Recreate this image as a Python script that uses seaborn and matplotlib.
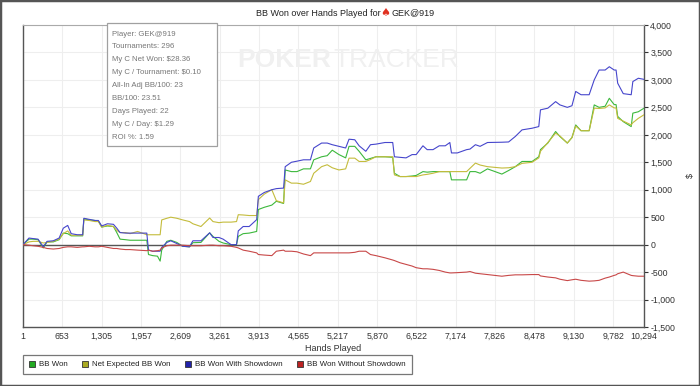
import matplotlib
matplotlib.use("Agg")
import matplotlib.pyplot as plt
import numpy as np
import pandas as pd
import seaborn as sns
from matplotlib.patches import Rectangle, Patch
from matplotlib.ticker import FuncFormatter

# ---------------- data ----------------
hands = [1, 100, 170, 250, 337, 400, 503, 600, 669, 742, 800, 900, 990, 1010, 1100, 1195, 1250, 1306, 1400, 1500,
         1555, 1610, 1700, 1776, 1900, 2053, 2081, 2150, 2230, 2274, 2300, 2385, 2450, 2551,
         2650, 2761, 2817, 2950, 3095, 3150, 3250, 3318, 3450, 3540, 3569, 3650, 3750, 3874, 3902, 4000,
         4125, 4200, 4320, 4347, 4450, 4542, 4650, 4765, 4820, 4950, 5043, 5127,
         5238, 5349, 5405, 5500, 5572, 5683, 5760, 5850, 6000, 6129, 6157, 6250, 6350, 6450, 6518, 6630,
         6700, 6797, 6900, 7000, 7076, 7103, 7200, 7354, 7410, 7500, 7577, 7700,
         7938, 8050, 8161, 8272, 8439, 8550, 8578, 8700, 8829, 8900, 9023, 9100, 9162, 9250, 9385, 9469,
         9550, 9650, 9719, 9800, 9831, 9858, 9950, 10082, 10109, 10200, 10294]

bb_won = [0, 100, 100, 90, -60, 50, 50, 90, 210, 200, 160, 160, 160, 470, 450, 440, 430, 320, 340, 330,
          220, 100, 90, 80, 80, 80, -180, -200, -210, -300, -100, 60, 80, 40,
          -30, -40, 35, 40, 215, 150, 60, 30, 0, 0, 150, 200, 210, 240, 640, 680,
          720, 790, 750, 1360, 1330, 1330, 1380, 1380, 1545, 1600, 1620, 1720,
          1640, 1580, 1790, 1790, 1700, 1545, 1570, 1600, 1600, 1590, 1300, 1240, 1240, 1250, 1260, 1330,
          1320, 1330, 1330, 1330, 1330, 1180, 1180, 1180, 1330, 1330, 1300, 1380,
          1285, 1350, 1420, 1515, 1515, 1600, 1730, 1850, 2060, 1970, 1850, 1950, 2180, 2075, 2075, 2545,
          2500, 2520, 2665, 2550, 2550, 2335, 2240, 2150, 2395, 2420, 2485]

net_expected = [0, 50, 60, 60, 30, 40, 60, 100, 200, 250, 170, 170, 170, 450, 440, 420, 420, 320, 350, 330,
                260, 220, 220, 200, 240, 180, 180, 180, 180, 180, 450, 480, 500, 480,
                450, 420, 380, 330, 485, 420, 400, 410, 410, 420, 545, 540, 530, 530, 820, 920,
                1000, 800, 760, 1180, 1120, 1120, 1100, 1150, 1300, 1420, 1455, 1400,
                1360, 1380, 1575, 1575, 1515, 1515, 1550, 1600, 1600, 1600, 1270, 1240, 1240, 1240, 1240, 1270,
                1280, 1300, 1330, 1330, 1330, 1330, 1330, 1330, 1390, 1485, 1450, 1420,
                1395, 1400, 1420, 1480, 1500, 1580, 1700, 1860, 2030, 1980, 1850, 1950, 2160, 2075, 2075, 2485,
                2480, 2490, 2545, 2490, 2490, 2300, 2250, 2180, 2220, 2300, 2365]

with_showdown = [0, 120, 110, 100, -40, 60, 70, 120, 300, 350, 200, 180, 180, 480, 460, 440, 440, 340, 380, 370,
                 300, 220, 210, 210, 210, 210, -100, -120, -120, -120, -50, 40, 70, 20,
                 -30, -40, 70, 70, 215, 130, 130, 100, 0, 0, 250, 330, 330, 455, 880, 950,
                 1000, 1020, 1030, 1420, 1500, 1520, 1545, 1545, 1760, 1850, 1850, 1820,
                 1790, 1760, 1920, 1910, 1800, 1700, 1820, 1830, 1860, 1860, 1600, 1590, 1580, 1640, 1640, 1800,
                 1730, 1730, 1800, 1800, 1860, 1670, 1670, 1730, 1740, 1820, 1790, 1860,
                 1865, 1870, 1970, 2090, 2120, 2150, 2455, 2485, 2605, 2545, 2500, 2530, 2790, 2730, 2730, 3000,
                 3180, 3180, 3240, 3180, 3180, 2940, 2750, 2730, 2970, 3030, 3010]

without_showdown = [0, -10, -20, -30, -50, -70, -80, -70, -50, -40, -40, -50, -40, -40, -30, -40, -40, -30, -50, -70,
                    -70, -80, -90, -90, -100, -110, -100, -120, -110, -100, -60, -20, -10, -10,
                    -10, -20, -20, -20, -10, -10, -20, -20, -30, -50, -60, -100, -120, -150, -180, -190,
                    -200, -120, -100, -120, -120, -130, -170, -200, -150, -150, -150, -150,
                    -150, -150, -150, -140, -120, -120, -180, -200, -240, -280, -290, -330, -360, -390, -420, -440,
                    -440, -450, -470, -500, -515, -515, -510, -500, -490, -520, -530, -545,
                    -575, -560, -550, -550, -545, -545, -570, -590, -605, -630, -655, -640, -630, -650, -665, -660,
                    -650, -610, -590, -560, -550, -530, -500, -560, -565, -575, -575]

series_names = ["BB Won", "Net Expected BB Won", "BB Won With Showdown", "BB Won Without Showdown"]
x_ticks = [1, 653, 1305, 1957, 2609, 3261, 3913, 4565, 5217, 5870, 6522, 7174, 7826, 8478, 9130, 9782, 10294]
y_ticks = [-1500, -1000, -500, 0, 500, 1000, 1500, 2000, 2500, 3000, 3500, 4000]
info_lines = ["Player: GEK@919", "Tournaments: 296", "My C Net Won: $28.36", "My C / Tournament: $0.10",
              "All-In Adj BB/100: 23", "BB/100: 23.51", "Days Played: 22", "My C / Day: $1.29", "ROI %: 1.59"]

line_colors = ["#3cb83c", "#c4bc3c", "#4646cc", "#c84848"]
legend_colors = ["#22aa22", "#aaaa22", "#2222aa", "#bb2222"]

df = pd.DataFrame({"Hands": hands, series_names[0]: bb_won, series_names[1]: net_expected,
                   series_names[2]: with_showdown, series_names[3]: without_showdown})
long = df.melt(id_vars="Hands", var_name="Series", value_name="BB")

# ---------------- figure ----------------
sns.set_style("white")
plt.rcParams["font.family"] = ["Liberation Sans", "DejaVu Sans"]

W, H = 700, 386
fig = plt.figure(figsize=(W / 100, H / 100), dpi=100)
fig.patch.set_facecolor("white")
ax = fig.add_axes([23 / W, (H - 327) / H, (644 - 23) / W, (327 - 25) / H])

ax.set_xlim(1, 10294)
ax.set_ylim(-1500, 4000)
ax.set_xticks(x_ticks)
ax.set_yticks(y_ticks)
ax.grid(True, color="#eeeeee", linewidth=0.8)
ax.set_axisbelow(True)
ax.axhline(0, color="#555555", linewidth=1.0, zorder=1)

sns.lineplot(data=long, x="Hands", y="BB", hue="Series", hue_order=series_names,
             palette=line_colors, linewidth=0.8, ax=ax, legend=False, sort=False, estimator=None, zorder=3)

ax.yaxis.tick_right()
ax.yaxis.set_label_position("right")
fmt = FuncFormatter(lambda v, p: f"{int(v):,}")
ax.xaxis.set_major_formatter(fmt)
ax.yaxis.set_major_formatter(fmt)
ax.tick_params(axis="both", labelsize=6.3, colors="#333333", length=3, width=0.8, pad=1.5)
ax.tick_params(axis="x", length=2)
ax.set_xlabel("Hands Played", fontsize=6.5, color="#333333", labelpad=2)
ax.set_ylabel("$", fontsize=6.5, color="#333333", rotation=90, labelpad=8)

for side in ["left", "right", "bottom"]:
    ax.spines[side].set_visible(True)
    ax.spines[side].set_color("#555555")
    ax.spines[side].set_linewidth(1.0)
ax.spines["top"].set_visible(True)
ax.spines["top"].set_color("#aaaaaa")
ax.spines["top"].set_linewidth(0.8)

# title
ty = (H - 13) / H
fig.text(381 / W, ty, "BB Won over Hands Played for", ha="right", va="center", fontsize=6.5, color="#222222")
fig.text(385 / W, ty, "\u2660", ha="center", va="center", fontsize=8, color="#e03020", family="DejaVu Sans")
fig.text(391 / W, ty, "GEK@919", ha="left", va="center", fontsize=6.5, color="#222222")

# watermark
fig.text(237 / W, (H - 60) / H, "POKER", ha="left", va="center", fontsize=19, fontweight="bold",
         color="#f0f0f0", zorder=0)
fig.text(333 / W, (H - 60) / H, "TRACKER", ha="left", va="center", fontsize=19,
         color="#f0f0f0", zorder=0)

# info box
box = Rectangle((107 / W, (H - 146) / H), 110 / W, 123 / H, transform=fig.transFigure,
                facecolor="white", edgecolor="#a0a0a0", linewidth=0.9, zorder=5)
fig.add_artist(box)
for i, t in enumerate(info_lines):
    fig.text(111.5 / W, (H - (34 + i * 12.9)) / H, t, ha="left", va="center", fontsize=5.6,
             color="#777777", zorder=6)

# legend
handles = [Patch(facecolor=c, edgecolor="#333333", linewidth=0.6) for c in legend_colors]
leg = fig.legend(handles, series_names, loc="lower left", bbox_to_anchor=(23 / W, (H - 374) / H),
                 ncol=4, fontsize=5.7, frameon=True, fancybox=False, handlelength=0.8, handleheight=0.8,
                 handletextpad=0.5, columnspacing=1.8, borderpad=0.7, borderaxespad=0,
                 labelcolor="#222222")
leg.get_frame().set_edgecolor("#555555")
leg.get_frame().set_linewidth(0.9)

# outer border
fig.add_artist(Rectangle((0, 0), 1, 1, transform=fig.transFigure, fill=False,
                         edgecolor="#555555", linewidth=2.5))

fig.savefig("out.png", dpi=100)
